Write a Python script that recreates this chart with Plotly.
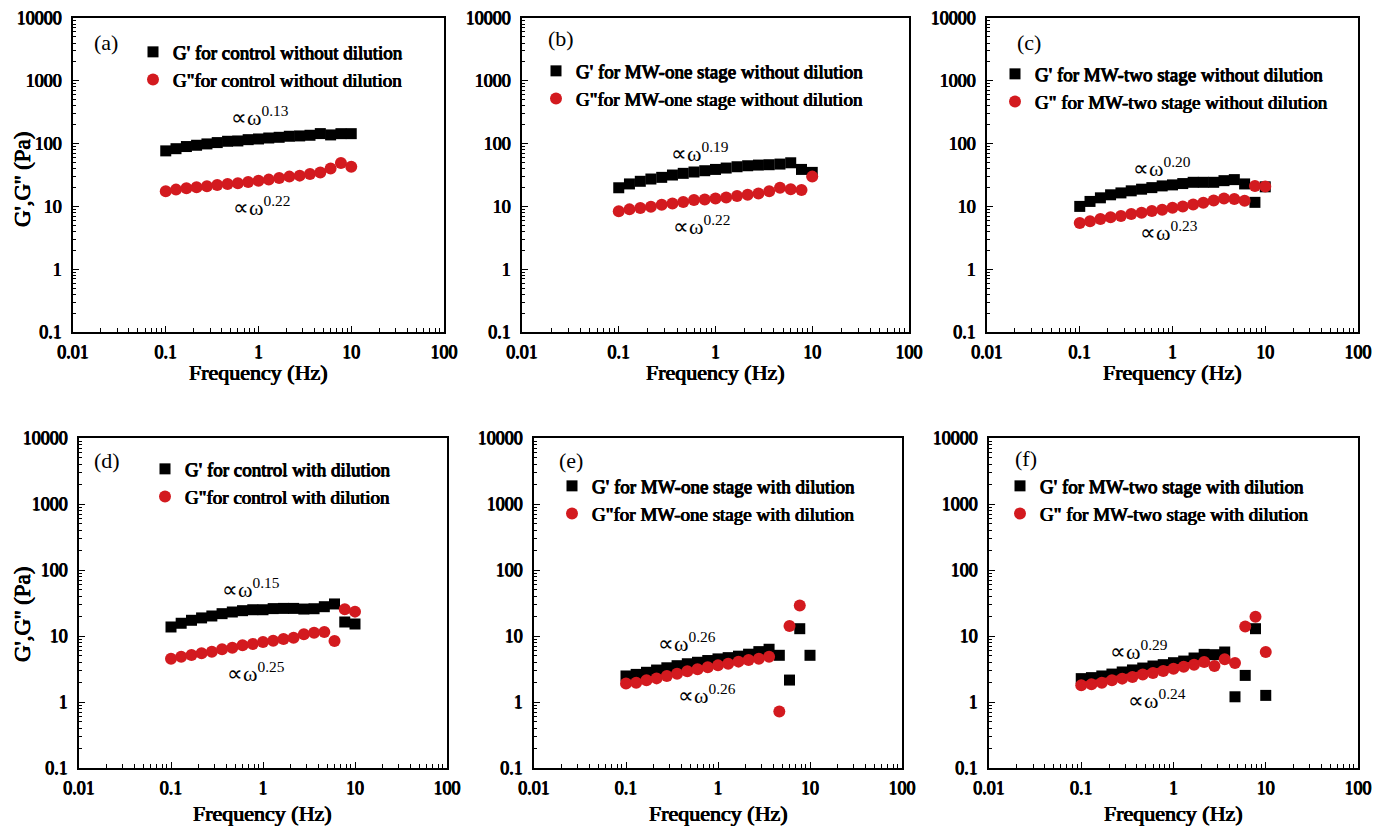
import plotly.graph_objects as go

freq = [0.1, 0.129, 0.167, 0.215, 0.278, 0.359, 0.464, 0.599, 0.774, 1.0,
        1.29, 1.67, 2.15, 2.78, 3.59, 4.64, 5.99, 7.74, 10.0]

a_Gp = [76.6, 83.0, 89.8, 94.1, 98.9, 103.8, 108.9, 110.2, 115.6, 118.5, 122.8, 126.0, 130.9, 132.5, 135.8, 144.3, 137.5, 144.0, 144.0]
a_Gpp = [17.4, 18.5, 19.5, 20.2, 20.9, 22.0, 22.8, 23.3, 24.5, 25.7, 26.7, 28.3, 29.8, 30.9, 32.8, 34.8, 40.3, 48.9, 42.8]
b_Gp = [19.8, 22.8, 25.1, 27.3, 29.0, 31.6, 33.6, 35.3, 37.0, 38.8, 40.8, 42.8, 44.4, 45.5, 46.1, 47.2, 49.5, 38.8, 34.8]
b_Gpp = [8.34, 8.97, 9.41, 9.88, 10.6, 11.1, 11.8, 12.6, 12.9, 13.4, 13.9, 14.6, 15.3, 16.0, 17.5, 19.8, 18.8, 18.3, 29.8]
c_Gp = [10.0, 12.0, 13.7, 15.3, 16.4, 17.7, 18.8, 19.9, 21.2, 22.0, 23.1, 24.2, 24.2, 24.2, 25.7, 26.7, 22.8, 11.6, 20.5]
c_Gpp = [5.46, 5.80, 6.31, 6.70, 7.04, 7.57, 7.94, 8.44, 8.86, 9.53, 10.0, 10.7, 11.4, 12.4, 13.4, 13.1, 12.3, 21.2, 20.7]
d_Gp = [13.7, 15.6, 17.3, 18.8, 20.1, 21.8, 23.1, 24.2, 25.0, 25.0, 26.0, 26.2, 26.2, 25.6, 25.9, 27.8, 30.6, 16.3, 15.2]
d_Gpp = [4.54, 4.86, 5.16, 5.46, 5.79, 6.28, 6.66, 7.22, 7.57, 8.11, 8.50, 9.00, 9.42, 10.6, 11.2, 11.5, 8.4, 25.4, 23.4]
e_Gp = [2.48, 2.62, 2.82, 3.05, 3.30, 3.55, 3.80, 4.00, 4.25, 4.50, 4.70, 4.95, 5.30, 5.80, 6.30, 5.10, 2.15, 12.9, 5.10]
e_Gpp = [1.90, 1.96, 2.13, 2.28, 2.48, 2.69, 2.92, 3.13, 3.35, 3.59, 3.81, 4.09, 4.33, 4.53, 4.86, 0.72, 14.2, 29.1, None]
f_Gp = [2.26, 2.34, 2.48, 2.65, 2.85, 3.06, 3.27, 3.51, 3.68, 3.94, 4.17, 4.64, 5.27, 5.21, 5.72, 1.20, 2.53, 12.9, 1.26]
f_Gpp = [1.79, 1.85, 1.96, 2.13, 2.26, 2.39, 2.60, 2.75, 2.95, 3.20, 3.43, 3.68, 4.04, 3.51, 4.43, 3.90, 13.9, 19.6, 5.72]

# power-law fit lines drawn in panel (f)
f_fit_x = [0.1, 2.2]
f_fit_Gp = [2.05, 4.9]
f_fit_Gpp = [1.9, 4.25]

panel_labels = ["(a)", "(b)", "(c)", "(d)", "(e)", "(f)"]
legend_Gp = ["G' for control without dilution", "G' for MW-one stage without dilution",
             "G' for MW-two stage without dilution", "G' for control with dilution",
             "G' for MW-one stage with dilution", "G' for MW-two stage with dilution"]
legend_Gpp = ['G"for control without dilution', 'G"for MW-one stage without dilution',
              'G" for MW-two stage without dilution', 'G"for control with dilution',
              'G"for MW-one stage with dilution', 'G" for MW-two stage with dilution']
exp_Gp = ["0.13", "0.19", "0.20", "0.15", "0.26", "0.29"]
exp_Gpp = ["0.22", "0.22", "0.23", "0.25", "0.26", "0.24"]

Gp_all = [a_Gp, b_Gp, c_Gp, d_Gp, e_Gp, f_Gp]
Gpp_all = [a_Gpp, b_Gpp, c_Gpp, d_Gpp, e_Gpp, f_Gpp]

x_ticks = [0.01, 0.1, 1, 10, 100]
x_ticktext = ["0.01", "0.1", "1", "10", "100"]
y_ticks = [0.1, 1, 10, 100, 1000, 10000]
y_ticktext = ["0.1", "1", "10", "100", "1000", "10000"]

# the page body has an 8px margin, so the figure starts 8px in from the window edge
OFF = 8
W, H = 1386, 827
FONT = "Liberation Serif"
BOLD = "0.5px 0 0 #000, -0.5px 0 0 #000, 0 0.3px 0 #000"
RED = "#d31a1f"


def px(xp):
    return (xp - OFF) / W


def py(yp):
    return 1 - (yp - OFF) / H


def bfont(size):
    return dict(family=FONT, size=size, color="black", shadow=BOLD)


boxes = [(73, 444, 18, 332), (522, 909, 18, 332), (987, 1358, 18, 332),
         (79, 447, 438, 768), (534, 902, 438, 768), (989, 1358, 438, 768)]
leg_pos = [(153, 53), (556, 72), (1015, 75), (165, 470), (572, 487), (1020, 487)]
label_pos = [(92, 42), (546, 38), (1015, 42), (92, 460), (557, 460), (1013, 458)]
ann_Gp = [(-0.315, 2.44), (-0.48, 1.87), (-0.444, 1.635), (-0.47, 1.72), (-0.67, 0.904), (-0.707, 0.782)]
ann_Gpp = [(-0.293, 1.002), (-0.46, 0.70), (-0.37, 0.606), (-0.41, 0.46), (-0.453, 0.116), (-0.512, 0.04)]

minor_x = [m * 10 ** d for d in range(-2, 2) for m in range(2, 10)]
minor_y = [m * 10 ** d for d in range(-1, 4) for m in range(2, 10)]

fig = go.Figure()
layout = dict(width=W, height=H, margin=dict(l=0, r=0, t=0, b=0),
              paper_bgcolor="white", plot_bgcolor="white", showlegend=True)
annotations = []

for i in range(6):
    n = "" if i == 0 else str(i + 1)
    xa, ya = "x" + n, "y" + n
    leg = "legend" + n
    l, r, t, b = boxes[i]
    fig.add_trace(go.Scatter(x=freq, y=Gp_all[i], mode="markers", name=legend_Gp[i],
                             marker=dict(symbol="square", size=11, color="black"),
                             xaxis=xa, yaxis=ya, legend=leg))
    if i == 5:
        fig.add_trace(go.Scatter(x=f_fit_x, y=f_fit_Gp, mode="lines", showlegend=False,
                                 line=dict(color="black", width=3), xaxis=xa, yaxis=ya))
    fig.add_trace(go.Scatter(x=freq, y=Gpp_all[i], mode="markers", name=legend_Gpp[i],
                             marker=dict(symbol="circle", size=12, color=RED),
                             xaxis=xa, yaxis=ya, legend=leg))
    if i == 5:
        fig.add_trace(go.Scatter(x=f_fit_x, y=f_fit_Gpp, mode="lines", showlegend=False,
                                 line=dict(color=RED, width=3), xaxis=xa, yaxis=ya))

    axis_common = dict(type="log", showline=True, linecolor="black", linewidth=1.5, mirror=True,
                       ticks="inside", ticklen=6, tickwidth=1.2, tickcolor="black",
                       showgrid=False, zeroline=False, automargin=False,
                       ticklabeloverflow="allow", tickfont=bfont(18))
    layout["xaxis" + n] = dict(axis_common, range=[-2, 2], domain=[px(l), px(r)], anchor=ya,
                               tickvals=x_ticks, ticktext=x_ticktext, ticklabelstandoff=3,
                               minor=dict(tickvals=minor_x, ticks="inside", ticklen=4, tickcolor="black", showgrid=False))
    layout["yaxis" + n] = dict(axis_common, range=[-1, 4.0001], domain=[py(b), py(t)], anchor=xa,
                               tickvals=y_ticks, ticktext=y_ticktext, ticklabelstandoff=6,
                               minor=dict(tickvals=minor_y, ticks="inside", ticklen=3, tickcolor="black", showgrid=False))

    mx, my = leg_pos[i]
    layout[leg] = dict(x=px(mx - 20), y=py(my - 20), xanchor="left", yanchor="top",
                       bgcolor="rgba(0,0,0,0)", borderwidth=0, tracegroupgap=0, font=bfont(19))

    title_y = 372 if i < 3 else 813
    annotations.append(dict(x=px((l + r) / 2), y=py(title_y), xref="paper", yref="paper",
                            text="Frequency (Hz)", showarrow=False, xanchor="center", yanchor="middle",
                            font=bfont(22)))
    if i in (0, 3):
        ty = 180 if i == 0 else 615
        annotations.append(dict(x=px(22), y=py(ty), xref="paper", yref="paper",
                                text="G',G'' (Pa)", showarrow=False, textangle=-90,
                                xanchor="center", yanchor="middle", font=bfont(23)))

    lx, ly = label_pos[i]
    annotations.append(dict(x=px(lx), y=py(ly), xref="paper", yref="paper", text=panel_labels[i],
                            showarrow=False, xanchor="left", yanchor="middle",
                            font=dict(family=FONT, size=22, color="black")))
    for (ax, ay), ex in ((ann_Gp[i], exp_Gp[i]), (ann_Gpp[i], exp_Gpp[i])):
        annotations.append(dict(x=ax, y=ay, xref=xa, yref=ya, text="∝ω<sup>" + ex + "</sup>",
                                showarrow=False, xanchor="left", yanchor="middle",
                                font=dict(family=FONT, size=22, color="black")))

layout["annotations"] = annotations
fig.update_layout(**layout)
fig.write_html("out.html")
